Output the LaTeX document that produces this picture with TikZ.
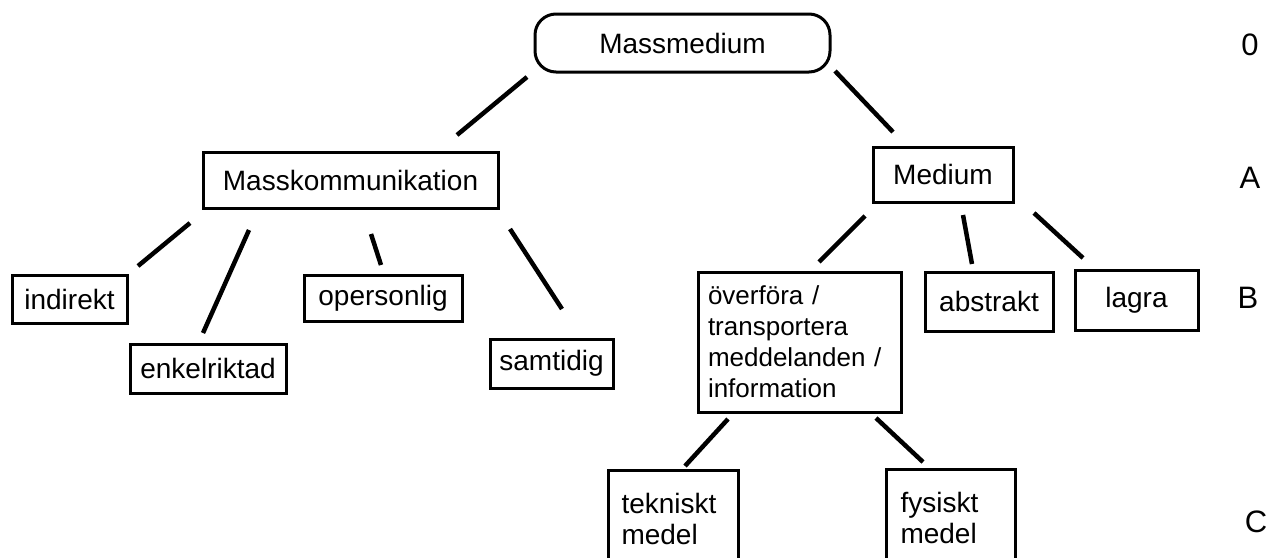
\documentclass[tikz,border=0pt]{standalone}
\usepackage{fontspec}
\setmainfont{Liberation Sans}
\begin{document}
\begin{tikzpicture}[x=1pt,y=-1pt,
  boxstyle/.style={draw, line width=3pt, inner sep=0pt, font=\fontsize{28}{31}\selectfont},
  conn/.style={line width=4.5pt, line cap=butt},
  lvl/.style={font=\fontsize{31}{31}\selectfont, inner sep=0pt}]
\useasboundingbox (0,0) rectangle (1271,557);
\clip (0,0) rectangle (1271,557);
% nodes
\node[boxstyle, rounded corners=21pt, minimum width=295, minimum height=58] (mm) at (682.5,43) {Massmedium};
\node[boxstyle, minimum width=295, minimum height=56] (mk) at (350.5,180) {Masskommunikation};
\node[boxstyle, minimum width=140, minimum height=55] (med) at (943,174.5) {Medium};
\node[boxstyle, minimum width=115, minimum height=48] (ind) at (69.5,299) {indirekt};
\node[boxstyle, minimum width=156, minimum height=49] (enk) at (208,368.5) {enkelriktad};
\node[boxstyle, minimum width=158, minimum height=46] (ope) at (383,298) {opersonlig};
\node[boxstyle, minimum width=123, minimum height=49] (sam) at (551.5,363.5) {samtidig};
\node[boxstyle, minimum width=203, minimum height=140, align=left, text width=183,
      font=\fontsize{26}{31}\selectfont] (ove) at (799.5,342) {överföra /\\transportera\\meddelanden /\\information};
\node[boxstyle, minimum width=128, minimum height=59] (abs) at (989,301.5) {abstrakt};
\node[boxstyle, minimum width=123, minimum height=60] (lag) at (1136.5,300) {lagra};
\node[boxstyle, anchor=north west, minimum width=130, minimum height=97, align=left, text width=104] (tek) at (607,469) {tekniskt\\medel};
\node[boxstyle, anchor=north west, minimum width=129, minimum height=97, align=left, text width=101] (fys) at (885,468) {fysiskt\\medel};
% level labels
\node[lvl] (l0) at (1250,45) {0};
\node[lvl] (lA) at (1250,178) {A};
\node[lvl] (lB) at (1248,298) {B};
\node[lvl] (lC) at (1256,522) {C};
% connector end points
\coordinate (mm-mk-a) at (527,77);   \coordinate (mm-mk-b) at (457,135);
\coordinate (mm-med-a) at (835,71);  \coordinate (mm-med-b) at (893,132);
\coordinate (mk-ind-a) at (190,223); \coordinate (mk-ind-b) at (138,266);
\coordinate (mk-enk-a) at (249,230); \coordinate (mk-enk-b) at (203,333);
\coordinate (mk-ope-a) at (371,234); \coordinate (mk-ope-b) at (381,265);
\coordinate (mk-sam-a) at (510,229); \coordinate (mk-sam-b) at (562,309);
\coordinate (med-ove-a) at (865,216); \coordinate (med-ove-b) at (819,262);
\coordinate (med-abs-a) at (963,215); \coordinate (med-abs-b) at (972,264);
\coordinate (med-lag-a) at (1034,213); \coordinate (med-lag-b) at (1083,258);
\coordinate (ove-tek-a) at (728,419); \coordinate (ove-tek-b) at (685,466);
\coordinate (ove-fys-a) at (876,418); \coordinate (ove-fys-b) at (923,462);
% connectors
\draw[conn] (mm-mk-a) -- (mm-mk-b);
\draw[conn] (mm-med-a) -- (mm-med-b);
\draw[conn] (mk-ind-a) -- (mk-ind-b);
\draw[conn] (mk-enk-a) -- (mk-enk-b);
\draw[conn] (mk-ope-a) -- (mk-ope-b);
\draw[conn] (mk-sam-a) -- (mk-sam-b);
\draw[conn] (med-ove-a) -- (med-ove-b);
\draw[conn] (med-abs-a) -- (med-abs-b);
\draw[conn] (med-lag-a) -- (med-lag-b);
\draw[conn] (ove-tek-a) -- (ove-tek-b);
\draw[conn] (ove-fys-a) -- (ove-fys-b);
\end{tikzpicture}
\end{document}
